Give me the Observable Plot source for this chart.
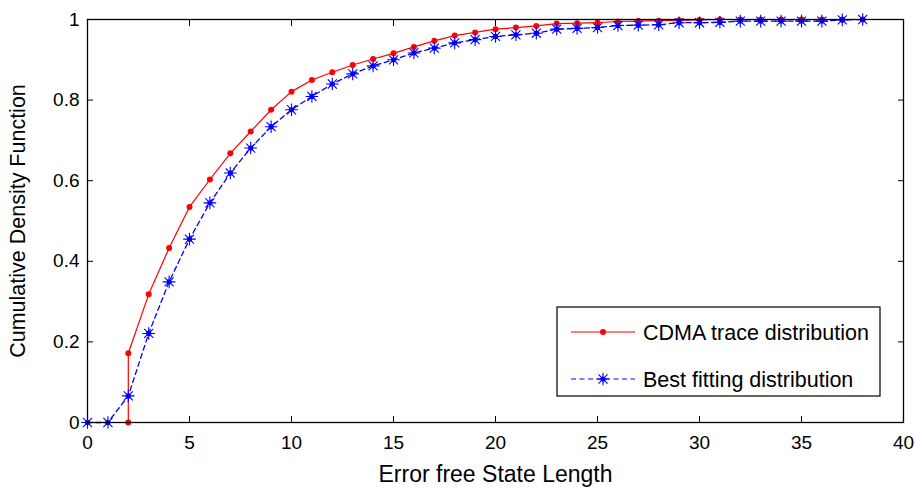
<!DOCTYPE html>
<html><head><meta charset="utf-8">
<script src="https://cdn.jsdelivr.net/npm/d3@7"></script>
<script src="https://cdn.jsdelivr.net/npm/@observablehq/plot@0.6"></script>
<style>
body{margin:0;background:#fff;}
#chart{position:relative;width:915px;height:488px;font-family:"Liberation Sans",Arial,sans-serif;}
#legend{position:absolute;left:0;top:0;pointer-events:none;}
</style></head><body><div id="chart"></div>
<script>
const blueX = [0,1,2,3,4,5,6,7,8,9,10,11,12,13,14,15,16,17,18,19,20,21,22,23,24,25,26,27,28,29,30,31,32,33,34,35,36,37,38];
const blueY = [0,0,0.066,0.221,0.349,0.455,0.545,0.619,0.681,0.734,0.776,0.809,0.840,0.865,0.885,0.900,0.917,0.929,0.942,0.950,0.958,0.962,0.966,0.976,0.978,0.980,0.985,0.986,0.987,0.992,0.992,0.993,0.996,0.996,0.996,0.996,0.996,0.999,1.0];
const redX = [2,2,3,4,5,6,7,8,9,10,11,12,13,14,15,16,17,18,19,20,21,22,23,24,25,26,27,28,29,30,31,32,33,34,35,36,37,38];
const redY = [0,0.172,0.318,0.433,0.535,0.603,0.668,0.722,0.776,0.821,0.850,0.869,0.887,0.902,0.916,0.932,0.947,0.960,0.968,0.976,0.980,0.984,0.990,0.991,0.992,0.995,0.996,0.997,0.998,0.999,1,1,1,1,1,1,1,1];
const xTicks = [0,5,10,15,20,25,30,35,40];
const yTicks = [0,0.2,0.4,0.6,0.8,1];
const seriesNames = ["CDMA trace distribution","Best fitting distribution"];
const xTitle = "Error free State Length";
const yTitle = "Cumulative Density Function";

const blue = blueX.map((x,i)=>({x, y: blueY[i]}));
const red = redX.map((x,i)=>({x, y: redY[i]}));

const asterisk = {draw(ctx, size){
  const r = Math.sqrt(size/Math.PI); const d = r*0.72;
  ctx.moveTo(-r,0);ctx.lineTo(r,0);ctx.moveTo(0,-r);ctx.lineTo(0,r);
  ctx.moveTo(-d,-d);ctx.lineTo(d,d);ctx.moveTo(-d,d);ctx.lineTo(d,-d);
}};

const fmt = d => String(d);
const chart = Plot.plot({
  width: 915, height: 488,
  marginLeft: 87, marginRight: 12, marginTop: 19, marginBottom: 66,
  style: {fontFamily: '"Liberation Sans",Arial,sans-serif', fontSize: "19px", color: "black", background: "white"},
  x: {domain: [0,40]},
  y: {domain: [0,1]},
  marks: [
    Plot.line(blue, {x:"x", y:"y", stroke:"#0000ff", strokeWidth:1.3, strokeDasharray:"5,3.5"}),
    Plot.line(red, {x:"x", y:"y", stroke:"#ff0000", strokeWidth:1.2}),
    Plot.dot(red, {x:"x", y:"y", r:3, fill:"#ff0000", stroke:"none"}),
    Plot.dot(blue, {x:"x", y:"y", r:6.3, symbol: asterisk, fill:"none", stroke:"#0000ff", strokeWidth:1.1}),
    Plot.dot(blue, {x:"x", y:"y", r:2.6, fill:"#0000ff", stroke:"none"}),
    Plot.frame({stroke:"black", strokeWidth:1.3}),
    Plot.axisX(xTicks, {anchor:"bottom", tickSize:-6, tickPadding:19, tickFormat: fmt, label:null, fontSize:19}),
    Plot.axisX(xTicks, {anchor:"top", tickSize:-6, tickFormat: ()=>"", label:null}),
    Plot.axisY(yTicks, {anchor:"left", tickSize:-6, tickPadding:14, tickFormat: fmt, label:null, fontSize:19}),
    Plot.axisY(yTicks, {anchor:"right", tickSize:-6, tickFormat: ()=>"", label:null}),
    Plot.text([xTitle], {frameAnchor:"bottom", dy:59, fontSize:23, fill:"black"}),
    Plot.text([yTitle], {frameAnchor:"left", textAnchor:"middle", rotate:-90, dx:-69, fontSize:21.5, fill:"black"})
  ]
});
document.getElementById("chart").appendChild(chart);

// legend overlay
const svg = d3.select("#chart").append("svg").attr("id","legend").attr("width",915).attr("height",488);
svg.append("rect").attr("x",557).attr("y",307).attr("width",323).attr("height",89)
  .attr("fill","white").attr("stroke","black").attr("stroke-width",1.2);
const rows = [{y:332, color:"#ff0000", dash:null}, {y:379, color:"#0000ff", dash:"5,3.5"}];
rows.forEach((r,i)=>{
  svg.append("line").attr("x1",571).attr("x2",635).attr("y1",r.y).attr("y2",r.y)
    .attr("stroke",r.color).attr("stroke-width",1.2).attr("stroke-dasharray",r.dash);
  if(i===0){
    svg.append("circle").attr("cx",603).attr("cy",r.y).attr("r",3).attr("fill",r.color);
  } else {
    svg.append("path").attr("transform",`translate(603,${r.y})`)
      .attr("d", d3.symbol(asterisk, Math.PI*6.3*6.3)()).attr("fill","none").attr("stroke",r.color).attr("stroke-width",1.1);
    svg.append("circle").attr("cx",603).attr("cy",r.y).attr("r",2.6).attr("fill",r.color);
  }
  svg.append("text").attr("x",643).attr("y",r.y).attr("dy","0.36em")
    .attr("font-size",21.5).attr("font-family",'"Liberation Sans",Arial,sans-serif').text(seriesNames[i]);
});
</script></body></html>
